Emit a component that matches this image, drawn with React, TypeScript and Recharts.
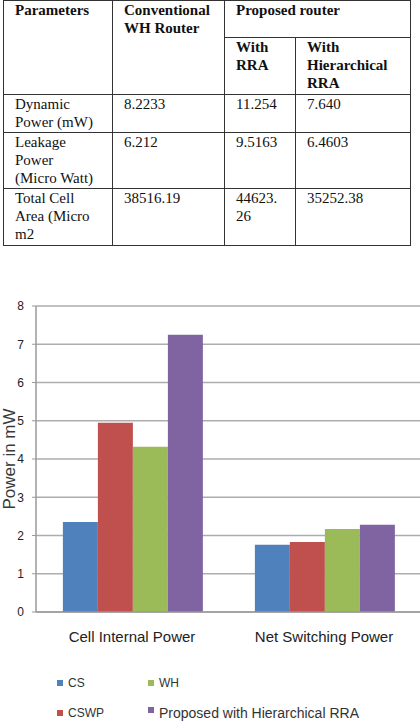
import { BarChart, Bar, XAxis, YAxis, CartesianGrid, Label } from 'recharts'

// table text
const tableHeads = ['Parameters', 'Conventional WH Router', 'Proposed router']
const subHeads = ['With RRA', 'With Hierarchical RRA']
const rowNames = ['Dynamic Power (mW)', 'Leakage Power (Micro Watt)', 'Total Cell Area (Micro m2']
const whValues = ['8.2233', '6.212', '38516.19']
const rraValues = ['11.254', '9.5163', '44623.26']
const hierValues = ['7.640', '6.4603', '35252.38']

// chart data
const categories = ['Cell Internal Power', 'Net Switching Power']
const seriesNames = ['CS', 'CSWP', 'WH', 'Proposed with Hierarchical RRA']
const seriesColors = ['#4F81BD', '#C0504D', '#9BBB59', '#8064A2']
const csValues = [2.35, 1.76]
const cswpValues = [4.95, 1.83]
const whPower = [4.32, 2.17]
const proposedValues = [7.25, 2.28]
const yTicks = [0, 1, 2, 3, 4, 5, 6, 7, 8]

const seriesValues = [csValues, cswpValues, whPower, proposedValues]
const data = categories.map((name, i) => {
  const row: Record<string, string | number> = { name }
  seriesNames.forEach((s, k) => {
    row[s] = seriesValues[k][i]
  })
  return row
})

// the page has no doctype, so table cells don't inherit fonts: set them per cell
const cell: React.CSSProperties = {
  border: '1px solid #333',
  padding: '0 8px 0 11px',
  verticalAlign: 'top',
  textAlign: 'left',
  fontFamily: '"Liberation Serif", "Times New Roman", serif',
  fontSize: 15,
  lineHeight: '18px',
  color: '#111',
}
const firstCol: React.CSSProperties = { ...cell, paddingRight: 16 }
const head: React.CSSProperties = { ...cell, fontWeight: 'bold' }

// let long numbers wrap after the decimal point, like the source table
const breakable = (v: string) => v.replace('.', '.\u200b')

function YLabel(props: any) {
  const vb = props.viewBox || {}
  const cx = 9
  const cy = (vb.y ?? 0) + (vb.height ?? 0) / 2
  return (
    <text
      x={cx}
      y={cy}
      transform={`rotate(-90, ${cx}, ${cy})`}
      textAnchor="middle"
      dominantBaseline="central"
      fill="#3a3a3a"
      fontSize={17}
      fontFamily="Liberation Sans, Arial, sans-serif"
    >
      Power in mW
    </text>
  )
}

export default function App() {
  return (
    <div style={{ position: 'absolute', left: 0, top: 0, width: 420, height: 728, background: '#fff' }}>
      <table
        style={{
          position: 'absolute',
          left: 3,
          top: 0,
          width: 407,
          borderCollapse: 'collapse',
          tableLayout: 'fixed',
        }}
      >
        <colgroup>
          <col style={{ width: 109 }} />
          <col style={{ width: 112 }} />
          <col style={{ width: 71 }} />
          <col style={{ width: 115 }} />
        </colgroup>
        <tbody>
          <tr style={{ height: 37 }}>
            <th style={head} rowSpan={2}>{tableHeads[0]}</th>
            <th style={head} rowSpan={2}>{tableHeads[1]}</th>
            <th style={head} colSpan={2}>{tableHeads[2]}</th>
          </tr>
          <tr style={{ height: 57 }}>
            {subHeads.map((h) => (
              <th key={h} style={head}>{h}</th>
            ))}
          </tr>
          {rowNames.map((r, i) => (
            <tr key={r} style={{ height: [38, 56, 57][i] }}>
              <td style={firstCol}>{r}</td>
              <td style={cell}>{whValues[i]}</td>
              <td style={cell}>{breakable(rraValues[i])}</td>
              <td style={cell}>{hierValues[i]}</td>
            </tr>
          ))}
        </tbody>
      </table>

      <div style={{ position: 'absolute', left: 0, top: 290 }}>
        <BarChart
          width={420}
          height={370}
          data={data}
          margin={{ top: 16, right: 0, left: 0, bottom: 0 }}
          barCategoryGap="14%"
          barGap={0}
        >
          <CartesianGrid vertical={false} stroke="#adadad" strokeWidth={1.5} />
          <XAxis
            dataKey="name"
            height={48}
            tickLine={false}
            tickMargin={13}
            axisLine={{ stroke: '#9a9a9a', strokeWidth: 1.5 }}
            tick={{ fill: '#222', fontSize: 15, fontFamily: 'Liberation Sans, Arial, sans-serif' }}
          />
          <YAxis
            width={36}
            domain={[0, 8]}
            ticks={yTicks}
            interval={0}
            tickSize={4}
            tickMargin={8}
            axisLine={{ stroke: '#9a9a9a', strokeWidth: 1.5 }}
            tickLine={{ stroke: '#9a9a9a' }}
            tick={{ fill: '#222', fontSize: 12, fontFamily: 'Liberation Sans, Arial, sans-serif' }}
          >
            <Label content={<YLabel />} />
          </YAxis>
          {seriesNames.map((s, k) => (
            <Bar key={s} dataKey={s} fill={seriesColors[k]} isAnimationActive={false} />
          ))}
        </BarChart>
      </div>

      <div
        style={{
          position: 'absolute',
          left: 57,
          top: 668,
          display: 'grid',
          gridTemplateColumns: '91px 260px',
          gridTemplateRows: '30px 30px',
          gridAutoFlow: 'column',
          fontFamily: 'Liberation Sans, Arial, sans-serif',
          color: '#333',
        }}
      >
        {seriesNames.map((s, k) => (
          <div key={s} style={{ display: 'flex', alignItems: 'center', height: 30 }}>
            <span
              style={{
                display: 'inline-block',
                width: 6,
                height: 6,
                background: seriesColors[k],
                marginRight: 5,
                alignSelf: k === 3 ? 'flex-start' : 'center',
                marginTop: k === 3 ? 9 : 0,
              }}
            />
            <span style={{ fontSize: k === 3 ? 14 : 12 }}>{s}</span>
          </div>
        ))}
      </div>
    </div>
  )
}
